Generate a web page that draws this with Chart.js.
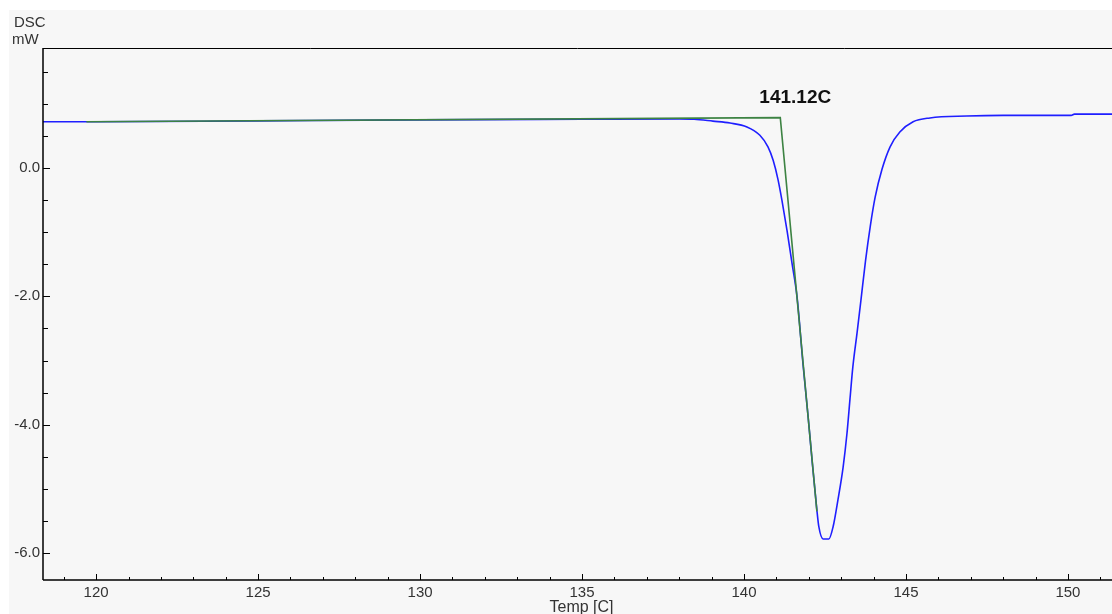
<!DOCTYPE html>
<html>
<head>
<meta charset="utf-8">
<script src="https://cdn.jsdelivr.net/npm/chart.js@4.4.1/dist/chart.umd.min.js"></script>
<style>
  html, body { margin: 0; padding: 0; background: #ffffff; }
  canvas { display: block; }
</style>
</head>
<body>
<canvas id="c" width="1112" height="614"></canvas>
<script>
// ---- data ----
const blueTemp = [118.36, 120.0, 125.0, 130.0, 135.0, 138.0, 138.46, 139.04, 139.57, 140.09, 140.49, 140.74, 140.90, 141.05, 141.17, 141.33, 141.48, 141.64, 141.82, 141.98, 142.10, 142.25, 142.31, 142.44, 142.62, 142.75, 142.90, 143.06, 143.18, 143.27, 143.36, 143.49, 143.61, 143.75, 143.90, 144.05, 144.26, 144.51, 144.81, 145.22, 145.74, 146.88, 148.0, 150.1, 150.2, 151.36];
const blueDsc  = [0.72, 0.72, 0.735, 0.75, 0.76, 0.765, 0.76, 0.73, 0.70, 0.64, 0.51, 0.33, 0.12, -0.18, -0.50, -0.98, -1.48, -2.02, -3.05, -3.88, -4.55, -5.33, -5.59, -5.78, -5.78, -5.59, -5.17, -4.66, -4.13, -3.61, -3.10, -2.57, -2.06, -1.45, -0.90, -0.45, -0.02, 0.33, 0.56, 0.72, 0.78, 0.81, 0.82, 0.82, 0.84, 0.84];
const greenTemp = [119.7, 141.12, 142.25];
const greenDsc  = [0.72, 0.785, -5.35];
const onsetTemp = 141.12;
const xTicks = [120, 125, 130, 135, 140, 145, 150];
const yTicks = [0.0, -2.0, -4.0, -6.0];
const xRange = [118.36, 151.36];
const yRange = [-6.42, 1.87];
const xMinorStep = 1;
const yMinorStep = 0.5;

const toPts = (xs, ys) => xs.map((x, i) => ({ x: x, y: ys[i] }));

const FONT = "'Liberation Sans', Arial, sans-serif";

const bgPlugin = {
  id: 'bg',
  beforeDraw(chart) {
    const ctx = chart.ctx;
    ctx.save();
    ctx.fillStyle = '#ffffff';
    ctx.fillRect(0, 0, chart.width, chart.height);
    ctx.fillStyle = '#f7f7f7';
    ctx.fillRect(9, 10, chart.width - 9, chart.height - 10);
    ctx.restore();
  }
};

const axesPlugin = {
  id: 'axesDeco',
  afterDraw(chart) {
    const ctx = chart.ctx;
    const a = chart.chartArea;
    const xs = chart.scales.x, ys = chart.scales.y;
    ctx.save();
    ctx.strokeStyle = '#000000';
    ctx.lineWidth = 1.5;
    ctx.beginPath();
    ctx.moveTo(a.left, a.top); ctx.lineTo(a.left, a.bottom);
    ctx.moveTo(a.left, a.bottom); ctx.lineTo(a.right, a.bottom);
    ctx.stroke();
    ctx.lineWidth = 1;
    ctx.beginPath();
    ctx.moveTo(a.left, a.top + 0.5); ctx.lineTo(a.right, a.top + 0.5);
    ctx.stroke();
    ctx.lineWidth = 1;
    ctx.beginPath();
    for (let v = Math.ceil(ys.min / yMinorStep) * yMinorStep; v <= ys.max; v += yMinorStep) {
      const p = Math.round(ys.getPixelForValue(v)) + 0.5;
      const major = yTicks.some(t => Math.abs(t - v) < 1e-6);
      ctx.moveTo(a.left, p); ctx.lineTo(a.left + (major ? 7 : 5), p);
    }
    for (let v = Math.ceil(xs.min / xMinorStep) * xMinorStep; v <= xs.max; v += xMinorStep) {
      const p = Math.round(xs.getPixelForValue(v)) + 0.5;
      const major = xTicks.some(t => Math.abs(t - v) < 1e-6);
      ctx.moveTo(p, a.bottom); ctx.lineTo(p, a.bottom - (major ? 6 : 3));
    }
    ctx.stroke();

    ctx.fillStyle = '#333333';
    ctx.font = '15px ' + FONT;
    ctx.textBaseline = 'alphabetic';
    ctx.textAlign = 'left';
    ctx.fillText('DSC', 14, 27);
    ctx.fillText('mW', 12, 44);
    ctx.font = '16px ' + FONT;
    ctx.textAlign = 'center';
    ctx.fillText('Temp [C]', (a.left + a.right) / 2 + 4, 612);

    ctx.fillStyle = '#111111';
    ctx.font = 'bold 19px ' + FONT;
    ctx.textAlign = 'center';
    ctx.textBaseline = 'middle';
    ctx.fillText(onsetTemp.toFixed(2) + 'C', xs.getPixelForValue(onsetTemp) + 15, ys.getPixelForValue(1.1));
    ctx.restore();
  }
};

new Chart(document.getElementById('c'), {
  type: 'scatter',
  data: {
    datasets: [
      {
        label: 'DSC',
        data: toPts(blueTemp, blueDsc),
        showLine: true,
        borderColor: '#1f1fff',
        borderWidth: 1.6,
        pointRadius: 0,
        cubicInterpolationMode: 'monotone',
        order: 2
      },
      {
        label: 'Onset',
        data: toPts(greenTemp, greenDsc),
        showLine: true,
        borderColor: '#3d8343',
        borderWidth: 1.6,
        pointRadius: 0,
        tension: 0,
        order: 1
      }
    ]
  },
  options: {
    responsive: false,
    devicePixelRatio: 1,
    animation: false,
    layout: { padding: { top: 48, left: 0, right: 0, bottom: 0 } },
    plugins: { legend: { display: false }, tooltip: { enabled: false } },
    scales: {
      x: {
        type: 'linear',
        min: xRange[0], max: xRange[1],
        grid: { display: false, drawTicks: false },
        border: { display: false },
        afterBuildTicks(scale) { scale.ticks = xTicks.map(v => ({ value: v })); },
        afterFit(scale) { scale.height = 34; },
        ticks: {
          padding: 4,
          color: '#333333',
          font: { family: FONT, size: 15 },
          maxRotation: 0,
          autoSkip: false,
          callback: v => String(v)
        }
      },
      y: {
        type: 'linear',
        min: yRange[0], max: yRange[1],
        grid: { display: false, drawTicks: false },
        border: { display: false },
        afterBuildTicks(scale) { scale.ticks = yTicks.map(v => ({ value: v })); },
        afterFit(scale) { scale.width = 43; },
        ticks: {
          padding: 3,
          color: '#333333',
          font: { family: FONT, size: 15 },
          autoSkip: false,
          callback: v => Number(v).toFixed(1)
        }
      }
    }
  },
  plugins: [bgPlugin, axesPlugin]
});
</script>
</body>
</html>
